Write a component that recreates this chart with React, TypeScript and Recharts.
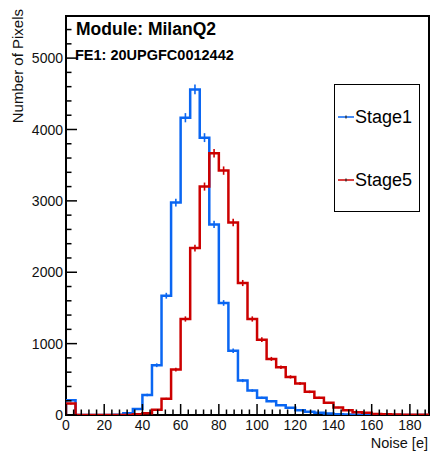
import React from 'react';
import { ComposedChart, Line, Scatter, ErrorBar, XAxis, YAxis, ReferenceArea, Legend, Label } from 'recharts';

// histogram bins (low edges), width 5
const binLow = [0, 5, 10, 15, 20, 25, 30, 35, 40, 45, 50, 55, 60, 65, 70, 75, 80, 85, 90, 95,
  100, 105, 110, 115, 120, 125, 130, 135, 140, 145, 150, 155, 160, 165, 170, 175, 180, 185];
const binWidth = 5;

const stage1 = [207, 0, 0, 0, 0, 2, 25, 85, 280, 697, 1671, 2976, 4165, 4562, 3886, 2670, 1570, 900, 482, 342,
  240, 193, 137, 100, 67, 45, 30, 20, 12, 8, 5, 3, 2, 1, 1, 0, 0, 0];
const stage5 = [160, 0, 0, 0, 0, 0, 0, 10, 25, 75, 226, 636, 1345, 2338, 3200, 3667, 3424, 2697, 1849, 1345,
  1056, 786, 669, 534, 440, 324, 240, 170, 105, 67, 40, 30, 15, 10, 6, 4, 3, 2];

const xTicks = [0, 4, 8, 12, 16, 20, 24, 28, 32, 36, 40, 44, 48, 52, 56, 60, 64, 68, 72, 76, 80, 84, 88, 92, 96,
  100, 104, 108, 112, 116, 120, 124, 128, 132, 136, 140, 144, 148, 152, 156, 160, 164, 168, 172, 176, 180, 184, 188];
const xLabels = [0, 20, 40, 60, 80, 100, 120, 140, 160, 180];
const yTicks = [0, 200, 400, 600, 800, 1000, 1200, 1400, 1600, 1800, 2000, 2200, 2400, 2600, 2800, 3000,
  3200, 3400, 3600, 3800, 4000, 4200, 4400, 4600, 4800, 5000, 5200, 5400];
const yLabels = [0, 1000, 2000, 3000, 4000, 5000];

const xDomain = [0, 190];
const yDomain = [0, 5590];

const BLUE = '#0a66f2';
const RED = '#cc0000';
const FONT = '"Liberation Sans", Arial, Helvetica, sans-serif';

const series = [
  { name: 'Stage1', values: stage1, color: BLUE },
  { name: 'Stage5', values: stage5, color: RED },
];

function stepData(vals: number[]) {
  const pts: { x: number; y: number }[] = [{ x: binLow[0], y: 0 }];
  binLow.forEach((lo, i) => pts.push({ x: lo, y: vals[i] }));
  pts.push({ x: binLow[binLow.length - 1] + binWidth, y: vals[vals.length - 1] });
  return pts;
}

function centerData(vals: number[]) {
  return binLow
    .map((lo, i) => ({ x: lo + binWidth / 2, y: vals[i], err: Math.sqrt(vals[i]) }))
    .filter((d) => d.y > 0);
}

const XTick = (props: any) => {
  const { x, y, payload } = props;
  const v = payload.value;
  const major = xLabels.includes(v);
  return (
    <g>
      <line x1={x} x2={x} y1={y} y2={y - (major ? 11 : 5.5)} stroke="#000" strokeWidth={1.5} />
      {major && (
        <text x={x} y={y + 15} textAnchor="middle" fontSize={14} fontFamily={FONT} fill="#111">
          {v}
        </text>
      )}
    </g>
  );
};

const YTick = (props: any) => {
  const { x, y, payload } = props;
  const v = payload.value;
  const major = yLabels.includes(v);
  return (
    <g>
      <line x1={x} x2={x + (major ? 11 : 5.5)} y1={y} y2={y} stroke="#000" strokeWidth={1.5} />
      {major && (
        <text x={x - 3} y={y} dy="0.36em" textAnchor="end" fontSize={14} fontFamily={FONT} fill="#111">
          {v}
        </text>
      )}
    </g>
  );
};

const LegendBox = () => (
  <div
    style={{
      width: 86,
      height: 128,
      boxSizing: 'border-box',
      border: '1.5px solid #000',
      background: '#fff',
      position: 'relative',
      fontFamily: FONT,
    }}
  >
    {series.map((s, i) => (
      <div key={s.name} style={{ position: 'absolute', left: 0, top: i === 0 ? 32 : 95, height: 0 }}>
        <svg width={20} height={8} style={{ position: 'absolute', left: 3, top: -4 }}>
          <line x1={0} x2={16} y1={4} y2={4} stroke={s.color} strokeWidth={1.5} />
          <line x1={8} x2={8} y1={2.5} y2={5.5} stroke="#222" strokeWidth={1.2} />
        </svg>
        <span
          style={{
            position: 'absolute',
            left: 20,
            top: -11,
            fontSize: 18,
            lineHeight: '22px',
            color: '#000',
            whiteSpace: 'nowrap',
          }}
        >
          {s.name}
        </span>
      </div>
    ))}
  </div>
);

export default function App() {
  return (
    <div style={{ position: 'absolute', left: 0, top: 0, width: 432, height: 455, background: '#fff' }}>
      <ComposedChart width={432} height={455} margin={{ top: 16, right: 3, left: 0, bottom: 0 }}>
        <XAxis
          type="number"
          dataKey="x"
          domain={xDomain}
          ticks={xTicks}
          interval={0}
          allowDataOverflow
          height={40}
          tickLine={false}
          axisLine={false}
          tickSize={0}
          tickMargin={0}
          tick={<XTick />}
        >
          <Label
            content={(p: any) => {
              const vb = p.viewBox;
              return (
                <text x={vb.x + vb.width - 1} y={vb.y + 33} textAnchor="end" fontSize={14.5} fontFamily={FONT} fill="#111">
                  Noise [e]
                </text>
              );
            }}
          />
        </XAxis>
        <YAxis
          type="number"
          domain={yDomain}
          ticks={yTicks}
          interval={0}
          allowDataOverflow
          width={66}
          tickLine={false}
          axisLine={false}
          tickSize={0}
          tickMargin={0}
          tick={<YTick />}
        >
          <Label
            content={(p: any) => {
              const vb = p.viewBox;
              const tx = vb.x + 23;
              const ty = vb.y - 7;
              return (
                <text
                  x={tx}
                  y={ty}
                  transform={`rotate(-90 ${tx} ${ty})`}
                  textAnchor="end"
                  fontSize={15}
                  fontFamily={FONT}
                  fill="#111"
                >
                  Number of Pixels
                </text>
              );
            }}
          />
        </YAxis>
        {series.map((s) => (
          <Line
            key={s.name}
            name={s.name}
            data={stepData(s.values)}
            dataKey="y"
            type="stepAfter"
            stroke={s.color}
            strokeWidth={2.5}
            dot={false}
            activeDot={false}
            isAnimationActive={false}
            legendType="none"
          />
        ))}
        {series.map((s) => (
          <Scatter
            key={s.name + '-err'}
            name={s.name + ' err'}
            data={centerData(s.values)}
            dataKey="y"
            shape={() => <g />}
            isAnimationActive={false}
            legendType="none"
          >
            <ErrorBar dataKey="err" direction="y" width={0} stroke={s.color} strokeWidth={1.6} isAnimationActive={false} />
          </Scatter>
        ))}
        <ReferenceArea
          x1={xDomain[0]}
          x2={xDomain[1]}
          y1={yDomain[0]}
          y2={yDomain[1]}
          fill="none"
          fillOpacity={0}
          stroke="#000"
          strokeWidth={2}
          ifOverflow="visible"
        />
        <Legend
          layout="horizontal"
          verticalAlign="middle"
          align="center"
          wrapperStyle={{ left: 334, top: 84, width: 86, height: 128 }}
          content={() => <LegendBox />}
        />
      </ComposedChart>
      <svg
        width={432}
        height={455}
        style={{ position: 'absolute', left: 0, top: 0, pointerEvents: 'none' }}
      >
        <text x={76} y={35} fontSize={17.5} fontWeight="bold" fontFamily={FONT} fill="#000">
          Module: MilanQ2
        </text>
        <text x={75} y={60} fontSize={14.5} fontWeight="bold" fontFamily={FONT} fill="#000">
          FE1: 20UPGFC0012442
        </text>
      </svg>
    </div>
  );
}
